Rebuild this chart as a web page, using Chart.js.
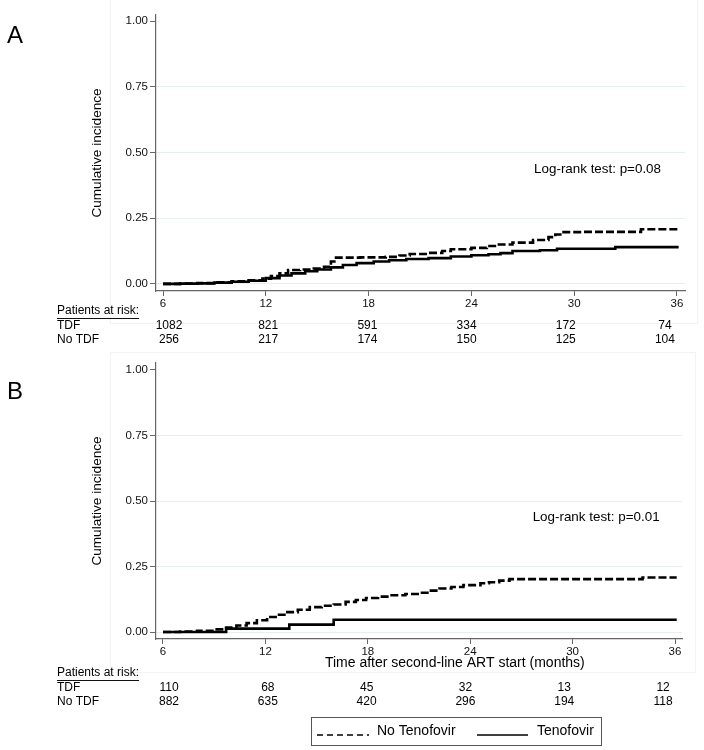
<!DOCTYPE html>
<html><head><meta charset="utf-8">
<script src="https://cdn.jsdelivr.net/npm/chart.js@4.4.0/dist/chart.umd.min.js"></script>
<style>
html,body{margin:0;padding:0;background:#fff;}
#wrap{position:relative;width:704px;height:750px;overflow:hidden;}
canvas{position:absolute;left:0;}
#ca{top:0;width:704px;height:350px;}
#cb{top:350px;width:704px;height:400px;}
</style></head><body>
<div id="wrap"><canvas id="ca" width="704" height="350"></canvas><canvas id="cb" width="704" height="400"></canvas></div>
<script>
// ---- data ----
const xTicks = [6, 12, 18, 24, 30, 36];
const yTicks = [0, 0.25, 0.5, 0.75, 1];
const yTickLabels = ['0.00', '0.25', '0.50', '0.75', '1.00'];
const seriesNames = ['No Tenofovir', 'Tenofovir'];
const riskRowNames = ['TDF', 'No TDF'];
const riskTimes = [6, 12, 18, 24, 30, 36];
const riskA_TDF = [1082, 821, 591, 334, 172, 74];
const riskA_NoTDF = [256, 217, 174, 150, 125, 104];
const riskB_TDF = [110, 68, 45, 32, 13, 12];
const riskB_NoTDF = [882, 635, 420, 296, 194, 118];
const pValueA = 'Log-rank test: p=0.08';
const pValueB = 'Log-rank test: p=0.01';
const xTitle = 'Time after second-line ART start (months)';
const yTitle = 'Cumulative incidence';

// Panel A: No Tenofovir (dashed)
const tA_noTdf = [6, 7, 8, 9, 10, 11, 11.8, 12.3, 12.8, 13.3, 14.0, 14.8, 15.4, 15.8, 16.0, 17.5, 19.0, 19.8, 20.4, 21.5, 22.3, 22.8, 24.0, 24.9, 25.5, 26.4, 27.6, 28.5, 28.9, 29.3, 30.5, 33.9, 36.1];
const vA_noTdf = [0, 0.001, 0.003, 0.006, 0.010, 0.014, 0.020, 0.030, 0.040, 0.053, 0.055, 0.058, 0.065, 0.085, 0.100, 0.101, 0.103, 0.108, 0.114, 0.118, 0.125, 0.132, 0.137, 0.144, 0.150, 0.157, 0.167, 0.178, 0.188, 0.197, 0.198, 0.208, 0.208];
// Panel A: Tenofovir (solid)
const tA_tdf = [6, 7, 8, 9, 10, 11, 12, 12.8, 13.5, 14.3, 15.0, 15.8, 16.5, 17.3, 18.3, 19.2, 20.2, 21.5, 22.8, 24.0, 25.0, 25.7, 26.4, 28.0, 29.0, 32.4, 36.1];
const vA_tdf = [0, 0.001, 0.002, 0.005, 0.008, 0.012, 0.022, 0.032, 0.040, 0.048, 0.055, 0.063, 0.072, 0.079, 0.085, 0.090, 0.095, 0.098, 0.104, 0.109, 0.113, 0.117, 0.125, 0.128, 0.134, 0.140, 0.140];
// Panel B: No Tenofovir (dashed)
const tB_noTdf = [6, 7, 8, 9, 9.7, 10.3, 10.9, 11.5, 12.1, 12.6, 13.2, 13.9, 14.6, 15.3, 16.0, 16.7, 17.3, 17.9, 18.6, 19.3, 20.2, 21.05, 21.6, 22.2, 22.9, 23.6, 24.6, 25.1, 25.7, 26.3, 30, 34.1, 36.1];
const vB_noTdf = [0, 0.002, 0.005, 0.010, 0.017, 0.025, 0.034, 0.045, 0.057, 0.066, 0.076, 0.085, 0.095, 0.100, 0.105, 0.115, 0.122, 0.130, 0.135, 0.140, 0.145, 0.150, 0.158, 0.166, 0.172, 0.179, 0.186, 0.190, 0.196, 0.202, 0.202, 0.208, 0.208];
// Panel B: Tenofovir (solid)
const tB_tdf = [6, 9.7, 13.4, 16.0, 36.1];
const vB_tdf = [0, 0.013, 0.028, 0.047, 0.047];

// ---- helpers ----
const FONT = '"Liberation Sans", Arial, Helvetica, sans-serif';
const zip = (t, v) => t.map((x, i) => ({x: x, y: v[i]}));

function makeDatasets(tN, vN, tT, vT) {
  return [
    {label: seriesNames[0], data: zip(tN, vN), borderColor: '#000', borderWidth: 2.6, borderDash: [8, 3], stepped: 'before', pointRadius: 0, fill: false},
    {label: seriesNames[1], data: zip(tT, vT), borderColor: '#000', borderWidth: 2.6, stepped: 'before', pointRadius: 0, fill: false}
  ];
}

function makeOptions(cfg) {
  return {
    responsive: false, animation: false,
    layout: {padding: {left: 85, top: cfg.top, right: cfg.right, bottom: 0}},
    plugins: {legend: {display: false}, tooltip: {enabled: false}},
    scales: {
      x: {
        type: 'linear', min: cfg.xmin, max: cfg.xmax,
        afterBuildTicks: s => { s.ticks = xTicks.map(v => ({value: v})); },
        afterFit: s => { s.height = cfg.xh; },
        ticks: {font: {family: FONT, size: 11.5}, color: '#111', padding: 1, maxRotation: 0, autoSkip: false},
        grid: {drawOnChartArea: false, tickLength: 5, tickColor: '#666', tickWidth: 1},
        border: {display: true, color: '#666', width: 1.2}
      },
      y: {
        type: 'linear', min: cfg.ymin, max: cfg.ymax,
        afterBuildTicks: s => { s.ticks = yTicks.map(v => ({value: v})); },
        afterFit: s => { s.width = 71; },
        ticks: {font: {family: FONT, size: 11.5}, color: '#111', padding: 2,
          callback: (v) => { const i = yTicks.indexOf(v); return i >= 0 ? yTickLabels[i] : ''; }},
        grid: {color: c => (c.tick && c.tick.value === 1) ? 'rgba(0,0,0,0)' : '#e6eeee', lineWidth: 1, tickLength: 6, tickColor: '#666'},
        border: {display: true, color: '#666', width: 1.2},
        title: {display: true, text: yTitle, font: {family: FONT, size: 13.6}, color: '#000', padding: {top: 4, bottom: 4}}
      }
    }
  };
}

function panelPlugin(cfg) {
  return {
    id: 'panel' + cfg.letter,
    beforeDraw(chart) {
      const c = chart.ctx;
      c.save();
      c.strokeStyle = '#f3f3f3'; c.lineWidth = 1;
      c.strokeRect(cfg.frame[0] + 0.5, cfg.frame[1] + 0.5, cfg.frame[2], cfg.frame[3]);
      c.restore();
    },
    afterDraw(chart) {
      const c = chart.ctx, xs = chart.scales.x, ys = chart.scales.y, ca = chart.chartArea;
      c.save();
      // panel letter
      c.fillStyle = '#000'; c.font = '24px ' + FONT; c.textAlign = 'left'; c.textBaseline = 'middle';
      c.fillText(cfg.letter, 7, cfg.letterY);
      // log-rank text
      c.font = '13.4px ' + FONT; c.fillStyle = '#000';
      c.fillText(cfg.pText, xs.getPixelForValue(27.66), ys.getPixelForValue(0.437));
      // x title
      if (cfg.xTitle) {
        c.font = '14px ' + FONT; c.textAlign = 'center';
        c.fillText(cfg.xTitle, xs.getPixelForValue(23.1), ca.bottom + 24);
      }
      // risk table
      const y0 = ca.bottom + cfg.riskOff;
      c.font = '12px ' + FONT; c.textAlign = 'left'; c.fillStyle = '#000';
      c.fillText('Patients at risk:', 57, y0);
      const w = c.measureText('Patients at risk:').width;
      c.strokeStyle = '#111'; c.lineWidth = 1;
      c.beginPath(); c.moveTo(57, y0 + 7.5); c.lineTo(57 + w, y0 + 7.5); c.stroke();
      c.fillText(riskRowNames[0], 57, y0 + 15);
      c.fillText(riskRowNames[1], 57, y0 + 29);
      const x6 = xs.getPixelForValue(riskTimes[0]);
      c.textAlign = 'center';
      riskTimes.forEach((t, i) => {
        const px = x6 + 6 + (xs.getPixelForValue(t) - x6) * 0.965;
        c.fillText(String(cfg.risk1[i]), px, y0 + 15);
        c.fillText(String(cfg.risk2[i]), px, y0 + 29);
      });
      // legend
      if (cfg.legend) {
        const L = cfg.legend;
        c.strokeStyle = '#555'; c.lineWidth = 1;
        c.strokeRect(L.x + 0.5, L.y + 0.5, L.w, L.h);
        const cy = L.y + L.h / 2;
        const ds = chart.data.datasets;
        c.strokeStyle = '#000'; c.lineWidth = 1.6;
        c.setLineDash([6, 4]);
        c.beginPath(); c.moveTo(L.x + 6, cy + 4); c.lineTo(L.x + 58, cy + 4); c.stroke();
        c.setLineDash([]);
        c.beginPath(); c.moveTo(L.x + 166, cy + 4); c.lineTo(L.x + 217, cy + 4); c.stroke();
        c.font = '14px ' + FONT; c.textAlign = 'left'; c.fillStyle = '#000';
        c.fillText(ds[0].label, L.x + 66, cy);
        c.fillText(ds[1].label, L.x + 226, cy);
      }
      c.restore();
    }
  };
}

new Chart(document.getElementById('ca'), {
  type: 'line',
  data: {datasets: makeDatasets(tA_noTdf, vA_noTdf, tA_tdf, vA_tdf)},
  options: makeOptions({top: 15, right: 19, xmin: 5.59, xmax: 36.47, ymin: -0.027, ymax: 1.023, xh: 59}),
  plugins: [panelPlugin({letter: 'A', letterY: 36, pText: pValueA, riskOff: 20, risk1: riskA_TDF, risk2: riskA_NoTDF, frame: [110, -2, 587, 325]})]
});

new Chart(document.getElementById('cb'), {
  type: 'line',
  data: {datasets: makeDatasets(tB_noTdf, vB_noTdf, tB_tdf, vB_tdf)},
  options: makeOptions({top: 13, right: 22, xmin: 5.59, xmax: 36.41, ymin: -0.0267, ymax: 1.0267, xh: 111}),
  plugins: [panelPlugin({letter: 'B', letterY: 42, pText: pValueB, riskOff: 34, xTitle: xTitle, risk1: riskB_TDF, risk2: riskB_NoTDF, frame: [110, 2, 585, 320],
    legend: {x: 311, y: 367, w: 290, h: 28}})]
});
</script>
</body></html>
